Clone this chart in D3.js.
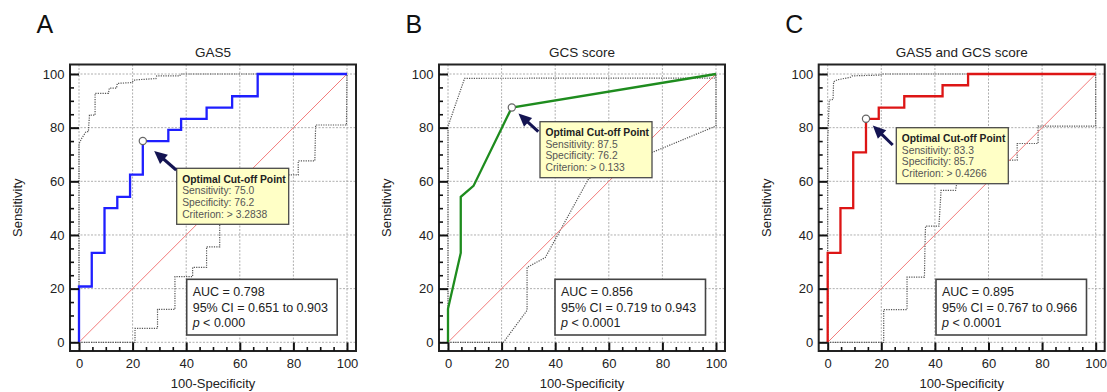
<!DOCTYPE html>
<html><head><meta charset="utf-8">
<script src="https://cdn.jsdelivr.net/npm/d3@7"></script>
<style>body{margin:0;background:#fff} svg{display:block} text{font-family:"Liberation Sans",Arial,sans-serif}</style>
</head><body><svg id="c" width="1107" height="392"></svg>
<script>
// ---------- data ----------
const panelLetters = ["A", "B", "C"];
const panelTitles = ["GAS5", "GCS score", "GAS5 and GCS score"];
const tickValues = [0, 20, 40, 60, 80, 100];
const minorTickValues = [5, 10, 15, 25, 30, 35, 45, 50, 55, 65, 70, 75, 85, 90, 95];
const xAxisTitle = "100-Specificity";
const yAxisTitle = "Sensitivity";

// Panel A: GAS5 ROC curve
const gas5Fpr = [0, 0, 4.76, 4.76, 9.52, 9.52, 14.29, 14.29, 19.05, 19.05, 23.81, 23.81, 33.33, 33.33, 38.10, 38.10, 47.62, 47.62, 57.14, 57.14, 66.67, 66.67, 100];
const gas5Tpr = [0, 20.8, 20.8, 33.3, 33.3, 50.0, 50.0, 54.2, 54.2, 62.5, 62.5, 75.0, 75.0, 79.2, 79.2, 83.3, 83.3, 87.5, 87.5, 91.7, 91.7, 100, 100];
const gas5UpperX = [0, 0, 0.4, 1.0, 2.6, 3.5, 3.9, 6.0, 6.0, 11.0, 11.3, 14.0, 14.3, 19.6, 20.9, 28.7, 29.0, 37.6, 37.9, 100];
const gas5UpperY = [0, 74, 74.8, 76.0, 78.5, 78.5, 84.7, 84.7, 92.8, 92.8, 94.7, 94.7, 96.5, 96.8, 97.8, 98.3, 99.3, 99.3, 100, 100];
const gas5LowerX = [0, 20.9, 20.9, 29.3, 29.3, 35.8, 35.8, 42.4, 42.4, 47.6, 47.6, 52.5, 52.5, 81.8, 81.8, 88.0, 88.3, 99.8, 100];
const gas5LowerY = [0, 0, 5.2, 5.2, 12.3, 12.3, 24.5, 24.5, 27.9, 27.9, 35.6, 35.6, 62.4, 62.4, 67.6, 67.6, 81.0, 81.0, 100];

// Panel B: GCS score ROC curve
const gcsFpr = [0, 0, 4.76, 4.76, 9.52, 23.81, 100];
const gcsTpr = [0, 12.5, 33.3, 54.2, 58.3, 87.5, 100];
const gcsUpperX = [0, 0, 6.2, 99.5, 100];
const gcsUpperY = [0, 80.5, 98.4, 98.5, 100];
const gcsLowerX = [0, 20.7, 29.5, 29.5, 36.3, 52.5, 100, 100];
const gcsLowerY = [0, 0, 11.9, 27.9, 31.6, 61.0, 80.6, 100];

// Panel C: combined ROC curve
const comboFpr = [0, 0, 4.76, 4.76, 9.52, 9.52, 14.29, 14.29, 19.05, 19.05, 28.57, 28.57, 42.86, 42.86, 52.38, 52.38, 100];
const comboTpr = [0, 33.3, 33.3, 50.0, 50.0, 70.8, 70.8, 83.3, 83.3, 87.5, 87.5, 91.7, 91.7, 95.8, 95.8, 100, 100];
const comboUpperX = [0, 0, 0.6, 2.0, 2.2, 3.5, 8.5, 9.1, 19.7, 20.3, 100];
const comboUpperY = [0, 75.3, 90.3, 90.5, 97.1, 97.8, 98.8, 99.3, 99.6, 100, 100];
const comboLowerX = [0, 20.9, 20.9, 29.6, 29.6, 36.1, 36.3, 36.5, 41.5, 42.3, 47.7, 48.1, 48.1, 70.7, 70.7, 78.5, 78.5, 100, 100];
const comboLowerY = [0, 0, 12.2, 12.2, 24.3, 24.3, 36.1, 43.3, 43.3, 56.6, 56.6, 58.9, 67.9, 67.9, 74.1, 74.1, 80.6, 80.6, 100];

// reference (chance) line
const chanceX = [0, 100];
const chanceY = [0, 100];

// Optimal cut-off points and statistics
const cutoffFpr = [23.81, 23.81, 14.29];
const cutoffTpr = [75.0, 87.5, 83.3];
const cutoffSens = ["75.0", "87.5", "83.3"];
const cutoffSpec = ["76.2", "76.2", "85.7"];
const cutoffCrit = ["> 3.2838", "> 0.133", "> 0.4266"];
const aucValues = ["0.798", "0.856", "0.895"];
const ciLow = ["0.651", "0.719", "0.767"];
const ciHigh = ["0.903", "0.943", "0.966"];
const pValues = ["< 0.000", "< 0.0001", "< 0.0001"];

// ---------- layout ----------
const frameLefts = [70, 439, 818.7];
const frameW = 286, frameTop = 64.5, frameBottom = 351;
const dataPad = 9, dataW = 268, yTop = 74, yBottom = 342.3;
const curveColors = ["#1f1fff", "#1e8c1e", "#dd1515"];
const cutBoxOffX = [106.7, 101, 77.6];
const cutBoxTop = [168.3, 121.7, 127.7];
const tailDx = [-0.5, -1.7, -3.6];
const tailDy = [1.7, 10, 17.3];
const tipGap = [15, 9, 9.5];
const aucBoxOffX = [116.7, 116, 117.3];

const curves = [
  [gas5Fpr, gas5Tpr, gas5UpperX, gas5UpperY, gas5LowerX, gas5LowerY],
  [gcsFpr, gcsTpr, gcsUpperX, gcsUpperY, gcsLowerX, gcsLowerY],
  [comboFpr, comboTpr, comboUpperX, comboUpperY, comboLowerX, comboLowerY]
];

const svg = d3.select("#c");
const zip = (a, b) => a.map((v, i) => [v, b[i]]);

curves.forEach((c, i) => {
  const fl = frameLefts[i];
  const x = d3.scaleLinear().domain([0, 100]).range([fl + dataPad, fl + dataPad + dataW]);
  const y = d3.scaleLinear().domain([0, 100]).range([yBottom, yTop]);
  const g = svg.append("g");
  const line = d3.line().x(d => x(d[0])).y(d => y(d[1]));

  // panel letter and title
  g.append("text").attr("x", fl - 33.5).attr("y", 33).attr("font-size", 25).attr("fill", "#111").text(panelLetters[i]);
  g.append("text").attr("x", fl + frameW / 2).attr("y", 56.5).attr("text-anchor", "middle")
    .attr("font-size", 13.5).attr("fill", "#222").text(panelTitles[i]);

  // grid
  const grid = g.append("g").attr("stroke", "#9a9a9a").attr("stroke-width", 0.8).attr("stroke-dasharray", "2,1.5");
  tickValues.forEach(t => {
    grid.append("line").attr("x1", x(t)).attr("x2", x(t)).attr("y1", frameTop).attr("y2", frameBottom);
    grid.append("line").attr("y1", y(t)).attr("y2", y(t)).attr("x1", fl).attr("x2", fl + frameW);
  });

  // confidence bands
  [zip(c[2], c[3]), zip(c[4], c[5])].forEach(band => {
    g.append("path").attr("d", line(band)).attr("fill", "none").attr("stroke", "#555")
      .attr("stroke-width", 1.2).attr("stroke-dasharray", "1.2,1.2");
  });

  // diagonal chance line
  g.append("path").attr("d", line(zip(chanceX, chanceY)))
    .style("fill", "none").style("stroke", "#f27a7a").style("stroke-width", "1px");

  // ROC curve
  g.append("path").attr("d", line(zip(c[0], c[1]))).attr("fill", "none").attr("stroke", curveColors[i])
    .attr("stroke-width", 2.3).attr("stroke-linejoin", "miter");

  // frame
  g.append("rect").attr("x", fl).attr("y", frameTop).attr("width", frameW).attr("height", frameBottom - frameTop)
    .attr("fill", "none").attr("stroke", "#222").attr("stroke-width", 2);

  // axes
  const xAxis = g.append("g").attr("transform", `translate(0,${frameBottom})`)
    .call(d3.axisBottom(x).tickValues(tickValues).tickSizeInner(-8.5).tickSizeOuter(0).tickPadding(8));
  const xMinor = g.append("g").attr("transform", `translate(0,${frameBottom})`)
    .call(d3.axisBottom(x).tickValues(minorTickValues).tickSizeInner(-4).tickSizeOuter(0).tickFormat(""));
  const yAxis = g.append("g").attr("transform", `translate(${fl},0)`)
    .call(d3.axisLeft(y).tickValues(tickValues).tickSizeInner(-9).tickSizeOuter(0).tickPadding(5.5));
  const yMinor = g.append("g").attr("transform", `translate(${fl},0)`)
    .call(d3.axisLeft(y).tickValues(minorTickValues).tickSizeInner(-4).tickSizeOuter(0).tickFormat(""));
  [xAxis, xMinor, yAxis, yMinor].forEach(a => {
    a.select(".domain").remove();
    a.selectAll(".tick line").attr("stroke", "#111").attr("stroke-width", 1.6);
    a.selectAll("text").attr("font-size", 13).attr("fill", "#222")
      .attr("font-family", '"Liberation Sans",Arial,sans-serif');
  });
  xAxis.selectAll(".tick line").attr("stroke-width", 2);
  yAxis.selectAll(".tick line").attr("stroke-width", 2);

  // axis titles
  g.append("text").attr("x", fl + frameW / 2).attr("y", 388).attr("text-anchor", "middle")
    .attr("font-size", 13).attr("fill", "#222").text(xAxisTitle);
  g.append("text").attr("transform", `translate(${fl - 48},${(frameTop + frameBottom) / 2}) rotate(-90)`)
    .attr("text-anchor", "middle").attr("font-size", 13).attr("fill", "#222").text(yAxisTitle);

  // optimal point
  const px = x(cutoffFpr[i]), py = y(cutoffTpr[i]);
  g.append("circle").attr("cx", px).attr("cy", py).attr("r", 3.6).attr("fill", "#fff")
    .attr("stroke", "#666").attr("stroke-width", 1.2);

  // cutoff box
  const bx = fl + cutBoxOffX[i], by = cutBoxTop[i];
  g.append("rect").attr("x", bx).attr("y", by).attr("width", 112).attr("height", 56)
    .attr("fill", "#ffffc6").attr("stroke", "#4a4a4a").attr("stroke-width", 1.3);
  const lines = ["Sensitivity: " + cutoffSens[i], "Specificity: " + cutoffSpec[i], "Criterion: " + cutoffCrit[i]];
  g.append("text").attr("x", bx + 5.5).attr("y", by + 14.3).attr("font-size", 10.3).attr("font-weight", "bold")
    .attr("fill", "#222").text("Optimal Cut-off Point");
  lines.forEach((t, k) => {
    g.append("text").attr("x", bx + 5.5).attr("y", by + 14.3 + 11.7 * (k + 1)).attr("font-size", 10.3)
      .attr("fill", "#555").text(t);
  });

  // arrow
  const tx = bx + tailDx[i], ty = by + tailDy[i];
  const dx = tx - px, dy = ty - py, len = Math.hypot(dx, dy), ux = dx / len, uy = dy / len;
  const tipX = px + ux * tipGap[i], tipY = py + uy * tipGap[i];
  const headL = 13, headW = 6;
  const baseX = tipX + ux * headL, baseY = tipY + uy * headL;
  g.append("line").attr("x1", tx).attr("y1", ty).attr("x2", baseX - ux * 1).attr("y2", baseY - uy * 1)
    .attr("stroke", "#141452").attr("stroke-width", 3);
  g.append("path").attr("d", `M${tipX},${tipY}L${baseX - uy * headW},${baseY + ux * headW}L${baseX + uy * headW},${baseY - ux * headW}Z`)
    .attr("fill", "#141452");

  // AUC box
  const ax = fl + aucBoxOffX[i], ay = 279.3;
  g.append("rect").attr("x", ax).attr("y", ay).attr("width", 150.5).attr("height", 55.7)
    .attr("fill", "#fff").attr("stroke", "#444").attr("stroke-width", 1.6);
  g.append("text").attr("x", ax + 6).attr("y", 296.3).attr("font-size", 12.5).attr("fill", "#222").text("AUC = " + aucValues[i]);
  g.append("text").attr("x", ax + 6).attr("y", 311.8).attr("font-size", 12.5).attr("fill", "#222")
    .text("95% CI = " + ciLow[i] + " to " + ciHigh[i]);
  const pt = g.append("text").attr("x", ax + 6).attr("y", 327.3).attr("font-size", 12.5).attr("fill", "#222");
  pt.append("tspan").attr("font-style", "italic").text("p");
  pt.append("tspan").text(" " + pValues[i]);
});
</script></body></html>
